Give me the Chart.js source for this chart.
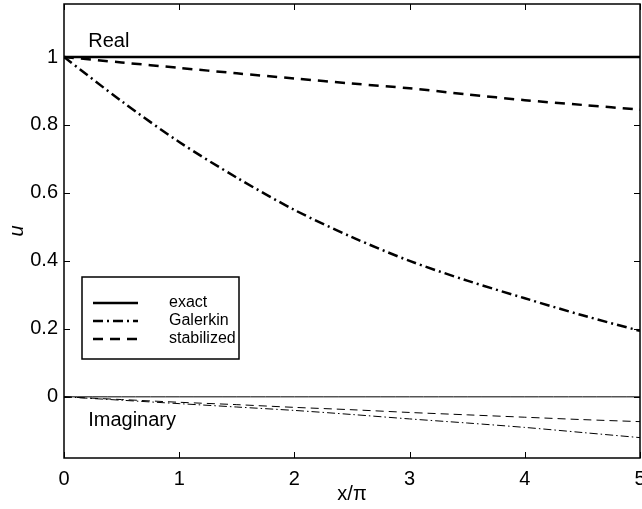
<!DOCTYPE html>
<html>
<head>
<meta charset="utf-8">
<script src="https://cdn.jsdelivr.net/npm/chart.js@4"></script>
<style>
  html, body { margin: 0; padding: 0; background: #fff; }
  canvas { display: block; }
</style>
</head>
<body>
<canvas id="uChart" width="642" height="509"></canvas>
<script>
// x / pi sample points
const xOverPi = [0, 0.5, 1, 1.5, 2, 2.5, 3, 3.5, 4, 4.5, 5];

// real parts
const exactReal      = [1, 1, 1, 1, 1, 1, 1, 1, 1, 1, 1];
const galerkinReal   = [1.0, 0.87, 0.75, 0.645, 0.55, 0.47, 0.40, 0.342, 0.29, 0.24, 0.194];
const stabilizedReal = [1.0, 0.984, 0.968, 0.952, 0.937, 0.922, 0.908, 0.890, 0.873, 0.859, 0.845];

// imaginary parts
const exactImag      = [0, 0, 0, 0, 0, 0, 0, 0, 0, 0, 0];
const galerkinImag   = [0, -0.01, -0.02, -0.03, -0.04, -0.052, -0.065, -0.077, -0.09, -0.105, -0.12];
const stabilizedImag = [0, -0.008, -0.016, -0.023, -0.031, -0.038, -0.046, -0.053, -0.060, -0.067, -0.073];

const xTicks = [0, 1, 2, 3, 4, 5];
const yTicks = [0, 0.2, 0.4, 0.6, 0.8, 1];
const seriesNames = ["exact", "Galerkin", "stabilized"];

const FONT = "'Liberation Sans', Arial, sans-serif";

function toPoints(ys) {
    return xOverPi.map((x, i) => ({ x: x, y: ys[i] }));
}

function line(label, ys, width, dash, inLegend) {
    return {
        label: label,
        data: toPoints(ys),
        borderColor: "#000",
        borderWidth: width,
        borderDash: dash,
        pointRadius: 0,
        tension: 0.3,
        fill: false,
        inLegend: inLegend
    };
}

// frame, inside ticks, text notes and the legend box
const decorations = {
    id: "decorations",
    afterDatasetsDraw(chart) {
        const ctx = chart.ctx;
        const a = chart.chartArea;
        const xs = chart.scales.x, ys = chart.scales.y;
        ctx.save();
        ctx.strokeStyle = "#000";
        ctx.setLineDash([]);

        ctx.lineWidth = 1;
        ctx.beginPath();
        xTicks.forEach(v => {
            const px = Math.round(xs.getPixelForValue(v)) + 0.5;
            ctx.moveTo(px, a.bottom); ctx.lineTo(px, a.bottom - 6);
            ctx.moveTo(px, a.top); ctx.lineTo(px, a.top + 6);
        });
        yTicks.forEach(v => {
            const py = Math.round(ys.getPixelForValue(v)) + 0.5;
            ctx.moveTo(a.left, py); ctx.lineTo(a.left + 6, py);
            ctx.moveTo(a.right, py); ctx.lineTo(a.right - 6, py);
        });
        ctx.stroke();

        ctx.lineWidth = 1.5;
        ctx.strokeRect(a.left, a.top, a.right - a.left, a.bottom - a.top);

        // Real / Imaginary notes
        ctx.fillStyle = "#000";
        ctx.font = "20px " + FONT;
        ctx.textAlign = "left";
        ctx.textBaseline = "alphabetic";
        ctx.fillText("Real", xs.getPixelForValue(0.21), ys.getPixelForValue(1.03));
        ctx.fillText("Imaginary", xs.getPixelForValue(0.21), ys.getPixelForValue(-0.085));

        // legend
        const bx = a.left + 18, by = a.top + 273, bw = 157, bh = 82;
        ctx.fillStyle = "#fff";
        ctx.fillRect(bx, by, bw, bh);
        ctx.lineWidth = 1.5;
        ctx.strokeRect(bx, by, bw, bh);
        ctx.font = "16px " + FONT;
        ctx.textBaseline = "middle";
        const entries = chart.data.datasets.filter(d => d.inLegend);
        entries.forEach((d, i) => {
            const ry = by + 26 + i * 18;
            ctx.beginPath();
            ctx.lineWidth = d.borderWidth;
            ctx.setLineDash(d.borderDash);
            ctx.moveTo(bx + 11, ry);
            ctx.lineTo(bx + 56, ry);
            ctx.stroke();
            ctx.setLineDash([]);
            ctx.fillStyle = "#000";
            ctx.fillText(d.label, bx + 87, ry);
        });
        ctx.restore();
    }
};

new Chart(document.getElementById("uChart").getContext("2d"), {
    type: "line",
    data: {
        datasets: [
            line(seriesNames[0], exactReal, 2.5, [], true),
            line(seriesNames[1], galerkinReal, 2.5, [10, 4, 2, 4], true),
            line(seriesNames[2], stabilizedReal, 2.5, [10, 7], true),
            line(seriesNames[0] + " (imag)", exactImag, 1, [], false),
            line(seriesNames[1] + " (imag)", galerkinImag, 1, [8, 3, 1.5, 3], false),
            line(seriesNames[2] + " (imag)", stabilizedImag, 1, [8, 5], false)
        ]
    },
    options: {
        responsive: false,
        animation: false,
        layout: { padding: { top: 4, right: 2, left: 0, bottom: 0 } },
        plugins: {
            legend: { display: false },
            tooltip: { enabled: false }
        },
        scales: {
            x: {
                type: "linear",
                min: 0,
                max: 5,
                afterBuildTicks: s => { s.ticks = xTicks.map(v => ({ value: v })); },
                afterFit: s => { s.height = 51; s.paddingLeft = 0; s.paddingRight = 0; },
                grid: { display: false, drawTicks: false },
                border: { display: false },
                ticks: {
                    color: "#000",
                    padding: 9,
                    maxRotation: 0,
                    font: { family: FONT, size: 20 }
                },
                title: {
                    display: true,
                    text: "x/\u03c0",
                    color: "#000",
                    padding: { top: 0, bottom: 3 },
                    font: { family: FONT, size: 20 }
                }
            },
            y: {
                type: "linear",
                min: -0.18,
                max: 1.156,
                afterBuildTicks: s => { s.ticks = yTicks.map(v => ({ value: v })); },
                afterFit: s => { s.width = 64; s.paddingTop = 0; s.paddingBottom = 0; },
                grid: { display: false, drawTicks: false },
                border: { display: false },
                ticks: {
                    color: "#000",
                    padding: 6,
                    font: { family: FONT, size: 20 },
                    callback: v => String(Math.round(v * 10) / 10)
                },
                title: {
                    display: true,
                    text: "u",
                    color: "#000",
                    padding: { top: 5, bottom: 0 },
                    font: { family: FONT, size: 20, style: "italic" }
                }
            }
        }
    },
    plugins: [decorations]
});
</script>
</body>
</html>
